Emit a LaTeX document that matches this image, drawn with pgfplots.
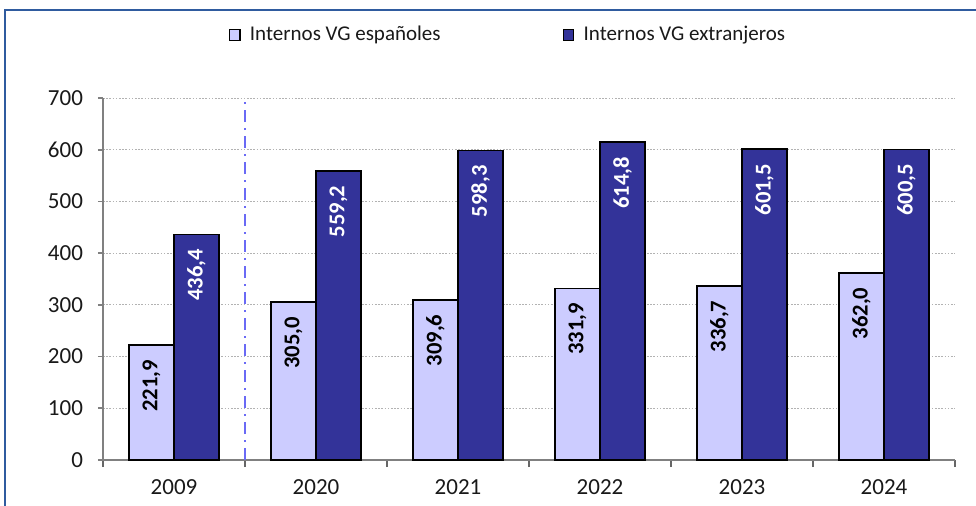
\documentclass[border=0pt]{standalone}
\usepackage{fontspec}
\setmainfont{Carlito}
\usepackage{pgfplots}
\pgfplotsset{compat=1.18}
\definecolor{lightbar}{HTML}{CCCCFF}
\definecolor{darkbar}{HTML}{333399}
\definecolor{framecol}{HTML}{2F5B9F}
\definecolor{refline}{HTML}{6A6AF5}
\begin{document}
\begin{tikzpicture}
\useasboundingbox (-51.5pt,-22.5pt) rectangle (436.5pt,230pt);
\draw[framecol, line width=1pt] (-49pt,-23pt) -- (-49pt,225pt) -- (437pt,225pt);
\begin{axis}[
  at={(0pt,0pt)}, anchor=south west,
  scale only axis,
  width=426pt, height=181pt,
  xmin=-0.5, xmax=5.5, ymin=0, ymax=700,
  ybar=0pt, bar width=22.5pt,
  axis x line*=bottom, axis y line*=left,
  axis line style={draw=gray, line width=0.9pt},
  xtick={0,1,2,3,4,5},
  xticklabels={2009,2020,2021,2022,2023,2024},
  minor xtick={-0.5,0.5,1.5,2.5,3.5,4.5,5.5},
  major x tick style={draw=none},
  minor x tick style={draw=gray!80!black, line width=0.7pt},
  minor tick length=3.5pt,
  ytick={0,100,...,700},
  major y tick style={draw=gray, line width=0.9pt},
  major tick length=2.5pt,
  tick align=outside,
  ymajorgrids,
  major grid style={draw=gray!60, line width=0.45pt, dash pattern=on 0.8pt off 0.8pt},
  ticklabel style={font=\fontsize{11.5}{13}\selectfont, text=black!90},
  xticklabel style={yshift=-4pt},
  yticklabel style={xshift=-4pt},
  /pgf/number format/assume math mode=true,
  legend columns=2,
  legend style={draw=none, fill=none, at={(0.4766,1.174)}, anchor=center,
    font=\fontsize{10.5}{12}\selectfont, text=black!90,
    /tikz/every even column/.append style={column sep=59pt}},
  legend image code/.code={\draw[#1, line width=0.6pt] (0pt,-2.6pt) rectangle (5.2pt,2.6pt); \path[draw=none, fill=none] (0pt,0pt) -- (8.2pt,0pt);},
  nodes near coords={\pgfmathprintnumber[fixed,fixed zerofill,precision=1,use comma,assume math mode=true]{\pgfplotspointmeta}},
  every node near coord/.append style={anchor=east, rotate=90, inner xsep=7pt,
    font=\fontsize{11.3}{13}\selectfont\bfseries},
]
\addplot[draw=black, line width=0.8pt, fill=lightbar,
  every node near coord/.append style={text=black}]
  coordinates {(0,221.9) (1,305.0) (2,309.6) (3,331.9) (4,336.7) (5,362.0)};
\addlegendentry{Internos VG españoles}
\addplot[draw=black, line width=0.8pt, fill=darkbar,
  every node near coord/.append style={text=white}]
  coordinates {(0,436.4) (1,559.2) (2,598.3) (3,614.8) (4,601.5) (5,600.5)};
\addlegendentry{Internos VG extranjeros}
\addplot[refline, line width=0.8pt, dash pattern=on 6pt off 3pt on 1pt off 3pt, forget plot, nodes near coords={}, sharp plot]
  coordinates {(0.5,0) (0.5,700)};
\end{axis}
\end{tikzpicture}
\end{document}
